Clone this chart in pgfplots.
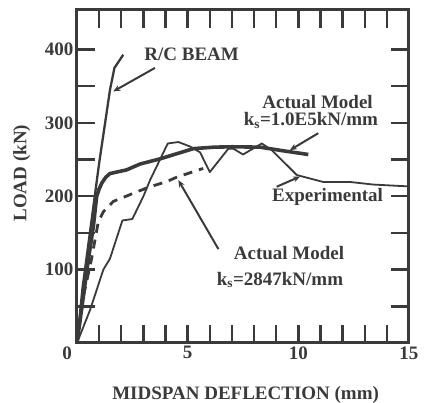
\documentclass[border=0pt]{standalone}
\usepackage{fontspec}
\setmainfont{Liberation Serif}
\usepackage{pgfplots}
\pgfplotsset{compat=1.18}
\usetikzlibrary{arrows.meta}
\definecolor{ink}{RGB}{58,58,58}

\begin{document}
\begin{tikzpicture}[txt/.style={font=\fontsize{19}{22}\selectfont\bfseries, text=ink, inner sep=0pt}]
\begin{axis}[
  scale only axis, width=332pt, height=333pt,
  xmin=0, xmax=15, ymin=0, ymax=454,
  xtick={0,5,10,15},
  xticklabels={\makebox[0pt][r]{0\hspace{5pt}},5,10,15},
  ytick={0,100,200,300,400},
  yticklabels={,100,200,300,400},
  minor x tick num=4, minor y tick num=1,
  tick pos=both,
  major tick length=18pt, minor tick length=18pt,
  every tick/.style={ink, line width=2.4pt},
  axis line style={ink, line width=3pt},
  tick label style={font=\fontsize{19}{22}\selectfont\bfseries, text=ink},
  /pgf/number format/assume math mode=true,
  label style={font=\fontsize{19}{22}\selectfont\bfseries, text=ink},
  xlabel={MIDSPAN DEFLECTION (mm)},
  ylabel={LOAD (kN)},
  xlabel style={at={(axis description cs:0.508,-0.156)}, anchor=center},
  ylabel style={at={(axis description cs:-0.166,0.51)}, anchor=center},
  clip=false,
]
% R/C beam
\addplot[ink, line width=2.3pt] coordinates {
  (0,0) (0.25,75) (1.0,245) (1.49,345) (1.69,375) (2.09,393)};
% actual model ks = 1.0E5
\addplot[ink, line width=3.6pt, line join=round] coordinates {
  (0,0) (0.51,113) (0.74,159) (0.89,200) (1.0,210) (1.12,218) (1.3,226)
  (1.49,231) (2.24,236) (2.85,244) (3.75,251) (4.5,258) (5.26,265)
  (6.2,267) (7,267.5) (8.27,267) (9.32,262) (10.45,257)};
% actual model ks = 2847
\addplot[ink, line width=2.8pt, dash pattern=on 9pt off 7pt] coordinates {
  (0,0) (0.3,65) (0.66,115) (0.81,140) (0.96,165) (1.19,179) (1.64,193)
  (2.7,206) (3.3,213) (4.05,220) (4.5,226) (5.1,232) (5.7,238)};
% experimental
\addplot[ink, line width=1.8pt, line join=round] coordinates {
  (0,0) (0.59,45) (1.19,100) (1.49,115) (2.05,167) (2.5,169) (3.0,200)
  (3.3,222) (3.75,250) (4.1,272) (4.58,274) (5.1,268) (5.56,260) (6.0,233)
  (6.84,265) (7.06,265) (7.5,257) (8.35,272) (8.8,263) (9.93,229)
  (11.13,219.5) (12.34,219.5) (13.39,216) (14.9,213.6)};

% labels and leaders
\node[txt] at (axis cs:5.18,393) {R/C BEAM};
\draw[ink, line width=2pt, -{Stealth[length=7pt,width=6pt]}] (axis cs:3.52,375) -- (axis cs:1.64,343);

\node[txt] at (axis cs:10.87,329) {Actual Model};
\node[txt] at (axis cs:10.57,303) {k\textsubscript{s}=1.0E5kN/mm};
\draw[ink, line width=2pt, -{Stealth[length=7pt,width=6pt]}] (axis cs:10.9,286) -- (axis cs:9.62,263);

\node[txt] at (axis cs:11.32,199.6) {Experimental};
\draw[ink, line width=2pt, -{Stealth[length=7pt,width=6pt]}] (axis cs:9.02,213) -- (axis cs:10.08,227);

\node[txt] at (axis cs:9.58,122) {Actual Model};
\node[txt] at (axis cs:9.17,86) {k\textsubscript{s}=2847kN/mm};
\draw[ink, line width=2pt, -{Stealth[length=7pt,width=6pt]}] (axis cs:6.39,128) -- (axis cs:4.58,222);
\end{axis}
\pgfresetboundingbox
\path ([xshift=-77pt,yshift=-60pt]current axis.south west) rectangle ([xshift=15pt,yshift=10pt]current axis.north east);
\end{tikzpicture}
\end{document}
